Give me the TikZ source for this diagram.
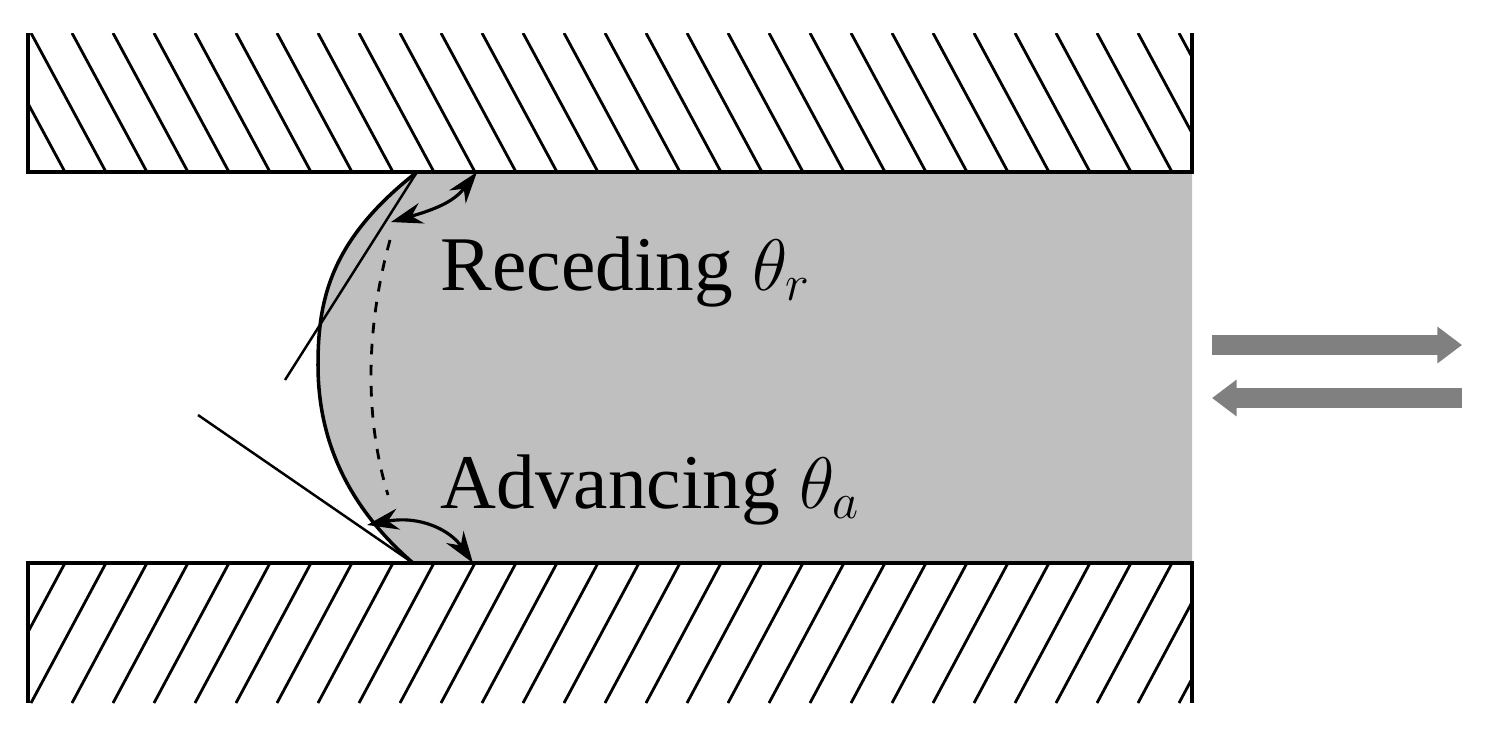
\documentclass[tikz,border=0pt]{standalone}
\usepackage{fontspec}
\setmainfont{Liberation Serif}
\usetikzlibrary{arrows.meta}
\definecolor{arrgray}{RGB}{128,128,128}
\begin{document}
\begin{tikzpicture}[x=0.01cm,y=-0.01cm,
  hatch/.style={line width=0.8pt},
  wall/.style={line width=1.2pt},
  angarr/.style={line width=0.9pt,{Stealth[length=9pt,width=6pt]}-{Stealth[length=9pt,width=6pt]}},
  bigarr/.style={draw=arrgray,color=arrgray,line width=5.5pt,-{Triangle[length=7pt,width=10pt]}},
  lbl/.style={anchor=base west,font=\fontsize{22}{25}\selectfont,inner sep=0pt}]
\useasboundingbox (0,0) rectangle (1488,732);
% fluid
\fill[gray!50] (417,172) -- (1192,172) -- (1192,563) -- (413,563)
  .. controls (340,500) and (318,430) .. (318,365)
  .. controls (318,300) and (330,240) .. (417,172) -- cycle;
% hatching
\begin{scope}
\clip (28,33) rectangle (1192,172);
\foreach \i in {-2,...,30} { \draw[hatch] (65+41*\i-75,33) -- (65+41*\i,172); }
\end{scope}
\begin{scope}
\clip (28,563) rectangle (1192,703);
\foreach \i in {-2,...,30} { \draw[hatch] (65+41*\i-75,703) -- (65+41*\i,563); }
\end{scope}
\draw[wall] (28,33) -- (28,172) -- (1192,172) -- (1192,33);
\draw[wall] (28,703) -- (28,563) -- (1192,563) -- (1192,703);
% meniscus
\coordinate (tc) at (417,172);
\coordinate (bc) at (413,563);
\draw[line width=1pt] (tc) .. controls (330,240) and (318,300) .. (318,365)
  .. controls (318,430) and (340,500) .. (bc);
\draw[line width=0.8pt,dashed] (390,240) .. controls (365,330) and (365,420) .. (388,495);
% tangents
\coordinate (t1) at (285,380);
\coordinate (t2) at (198,415);
\draw[line width=0.7pt] (t1) -- (tc);
\draw[line width=0.7pt] (t2) -- (bc);
% angle arcs
\draw[angarr] (391,222) .. controls (440,208) and (455,200) .. (477,172);
\draw[angarr] (367,525) .. controls (420,515) and (450,530) .. (473,563);
% labels
\node[lbl] (rec) at (440,290) {Receding $\theta_r$};
\node[lbl] (adv) at (440,508) {Advancing $\theta_a$};
% arrows
\coordinate (a1) at (1212,345);
\coordinate (a2) at (1462,345);
\coordinate (b1) at (1462,398);
\coordinate (b2) at (1212,398);
\draw[bigarr] (a1) -- (a2);
\draw[bigarr] (b1) -- (b2);
\end{tikzpicture}
\end{document}
